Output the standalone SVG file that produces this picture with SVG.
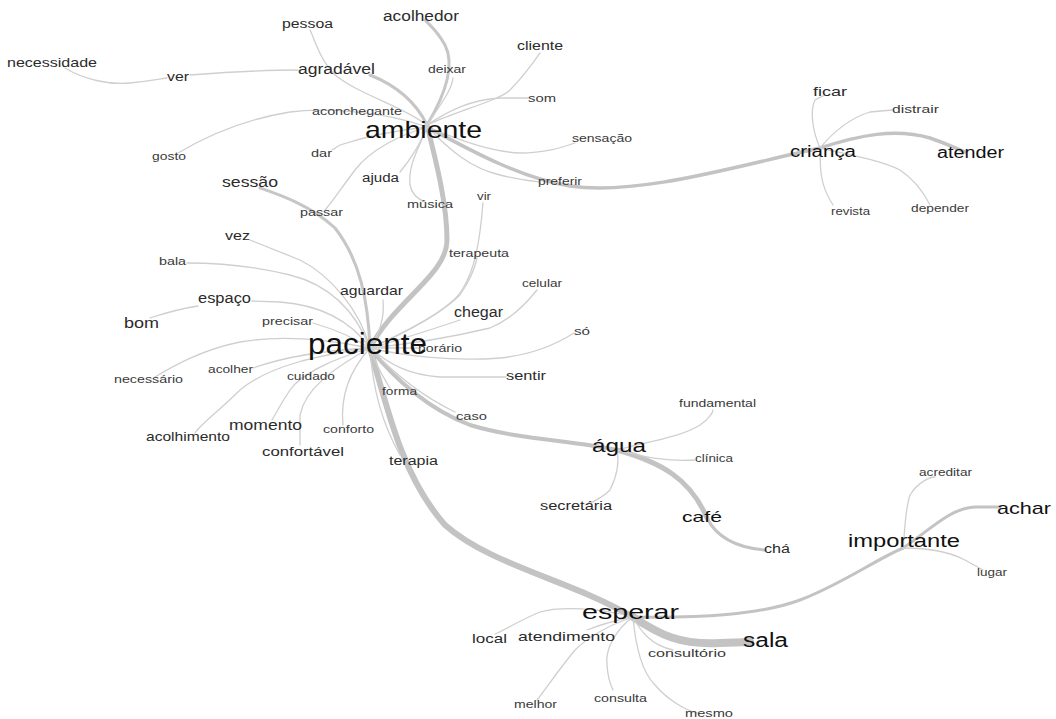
<svg xmlns="http://www.w3.org/2000/svg" width="1056" height="719" viewBox="0 0 1056 719">
<style>
.e{fill:none;stroke:#cfcfcf;stroke-width:1.3;stroke-linecap:round}
.m{fill:none;stroke:#c6c6c6;stroke-width:3;stroke-linecap:round}
.t{fill:none;stroke:#c3c3c3;stroke-linecap:round}
text{font-family:"Liberation Sans",Arial,sans-serif;fill:#2b2b2b}
.s{font-size:11px;fill:#3a3a3a}
.b{fill:#111}
</style>
<rect width="1056" height="719" fill="#ffffff"/>
<g id="connectors">
<path class="t" stroke-width="5" d="M427,125 C437,165 447,205 447,240 C447,275 395,300 370,348"/>
<path class="t" stroke-width="3.5" d="M427,127 C470,150 520,178 570,186 C640,196 740,165 820,148"/>
<path class="t" stroke-width="3.5" d="M820,148 C860,135 895,128 930,138 C945,143 955,148 965,152"/>
<path class="t" stroke-width="6" d="M370,348 C390,420 405,480 445,525 C490,565 570,580 633,617"/>
<path class="t" stroke-width="4" d="M370,348 C395,380 430,410 470,425 C520,440 570,440 617,450"/>
<path class="t" stroke-width="5" d="M617,450 C660,462 690,478 707,518"/>
<path class="t" stroke-width="3" d="M707,518 C718,540 740,548 765,550"/>
<path class="t" stroke-width="8" d="M633,617 C660,635 680,645 720,643 L750,642"/>
<path class="t" stroke-width="3" d="M633,617 C700,618 760,615 800,600 C840,585 875,560 903,548"/>
<path class="t" stroke-width="3" d="M903,548 C930,530 950,508 975,507 L1000,507"/>
<path class="m" d="M427,125 C445,95 455,65 445,45 C438,32 430,25 425,20"/>
<path class="m" d="M427,125 C415,100 395,85 370,75"/>
<path class="m" d="M370,348 C368,300 360,260 335,228 C310,205 280,195 260,188"/>
<path class="e" d="M427,125 C440,105 452,90 453,78"/>
<path class="e" d="M427,125 C460,110 500,100 510,90 C525,75 535,60 540,53"/>
<path class="e" d="M427,125 C450,110 470,100 500,98 L528,98"/>
<path class="e" d="M427,125 C400,105 360,95 335,75 C320,60 315,40 310,30"/>
<path class="e" d="M190,75 C230,72 260,70 298,70"/>
<path class="e" d="M65,68 C85,80 110,85 130,83 C150,81 160,79 167,78"/>
<path class="e" d="M427,127 C380,110 320,108 290,112 C240,120 200,140 178,153"/>
<path class="e" d="M427,127 C400,130 370,135 340,145 L332,150"/>
<path class="e" d="M427,127 C400,135 370,150 355,170 C340,190 330,205 325,210"/>
<path class="e" d="M427,127 C420,145 410,160 400,172"/>
<path class="e" d="M427,127 C418,150 408,165 410,185 C412,195 420,200 425,202"/>
<path class="e" d="M427,127 C460,140 490,152 520,153 C545,153 560,148 575,143"/>
<path class="e" d="M427,127 C450,150 470,168 500,175 C520,180 530,181 540,182"/>
<path class="e" d="M820,148 C812,130 810,110 815,100 L825,95"/>
<path class="e" d="M820,148 C835,130 850,118 870,112 L892,110"/>
<path class="e" d="M820,148 C820,170 820,185 833,205"/>
<path class="e" d="M820,148 C850,155 880,160 900,170 C915,180 925,195 930,205"/>
<path class="e" d="M370,348 C360,310 330,275 300,260 C275,250 255,242 250,240"/>
<path class="e" d="M370,348 C355,310 330,285 290,275 C250,265 210,263 187,263"/>
<path class="e" d="M370,348 C350,320 320,305 280,302 L252,301"/>
<path class="e" d="M150,318 C165,313 185,308 198,306"/>
<path class="e" d="M370,348 C350,335 330,328 313,323"/>
<path class="e" d="M370,348 C378,335 385,320 383,300"/>
<path class="e" d="M370,348 C330,340 280,335 240,342 C200,350 170,368 155,377"/>
<path class="e" d="M370,348 C330,350 290,355 253,368"/>
<path class="e" d="M370,348 C320,355 270,365 240,390 C220,410 200,425 195,433"/>
<path class="e" d="M370,348 C330,360 300,375 290,390 C280,405 275,415 272,420"/>
<path class="e" d="M370,348 C330,370 305,390 300,415 L300,445"/>
<path class="e" d="M370,348 C350,370 340,395 343,425"/>
<path class="e" d="M370,348 C372,380 380,420 400,455"/>
<path class="e" d="M370,348 C378,370 385,380 390,388"/>
<path class="e" d="M370,348 C400,380 430,400 455,412"/>
<path class="e" d="M370,348 C390,365 410,375 440,377 L506,377"/>
<path class="e" d="M370,348 C400,355 450,362 500,358 C530,355 555,345 574,333"/>
<path class="e" d="M370,348 L418,348"/>
<path class="e" d="M370,348 C400,345 440,340 490,328 C510,320 525,305 537,290"/>
<path class="e" d="M370,348 C400,340 430,330 460,320"/>
<path class="e" d="M370,348 C400,335 440,315 460,295 C470,280 475,268 477,258"/>
<path class="e" d="M370,348 C400,335 450,310 462,290 C475,270 480,240 483,203"/>
<path class="e" d="M617,450 C640,443 680,438 700,425 C710,418 713,412 713,410"/>
<path class="e" d="M617,450 C640,455 660,462 695,460"/>
<path class="e" d="M617,450 C620,465 615,480 610,490 C600,500 590,503 585,505"/>
<path class="e" d="M903,548 C905,530 905,510 910,495 C918,482 930,477 935,477"/>
<path class="e" d="M903,548 C930,548 950,552 965,560 L983,570"/>
<path class="e" d="M633,617 C600,608 560,606 540,612 C520,620 505,630 495,634"/>
<path class="e" d="M633,617 C615,620 600,625 587,630"/>
<path class="e" d="M633,617 C610,625 590,635 575,650 C560,668 545,690 537,700"/>
<path class="e" d="M633,617 C615,630 605,650 607,665 C608,680 612,688 613,690"/>
<path class="e" d="M633,617 C635,640 640,670 655,685 C668,700 685,710 697,713"/>
<path class="e" d="M633,617 C640,630 650,645 673,650"/>
</g>
<g id="n-necessidade"><text x="7" y="67" font-size="13" textLength="90" lengthAdjust="spacingAndGlyphs">necessidade</text></g>
<g id="n-ver"><text x="167" y="81" font-size="13" textLength="22" lengthAdjust="spacingAndGlyphs">ver</text></g>
<g id="n-pessoa"><text x="282" y="28" font-size="12" textLength="51" lengthAdjust="spacingAndGlyphs">pessoa</text></g>
<g id="n-acolhedor"><text x="383" y="21" font-size="14" textLength="76" lengthAdjust="spacingAndGlyphs">acolhedor</text></g>
<g id="n-cliente"><text x="517" y="50" font-size="13" textLength="46" lengthAdjust="spacingAndGlyphs">cliente</text></g>
<g id="n-agradavel"><text x="298" y="74" font-size="14" textLength="77" lengthAdjust="spacingAndGlyphs">agradável</text></g>
<g id="n-deixar"><text class="s" x="428" y="73" textLength="38" lengthAdjust="spacingAndGlyphs">deixar</text></g>
<g id="n-som"><text class="s" x="528" y="102" textLength="28" lengthAdjust="spacingAndGlyphs">som</text></g>
<g id="n-aconchegante"><text class="s" x="312" y="115" textLength="90" lengthAdjust="spacingAndGlyphs">aconchegante</text></g>
<g id="n-ambiente"><text class="b" x="365" y="138" font-size="24" textLength="117" lengthAdjust="spacingAndGlyphs">ambiente</text></g>
<g id="n-sensacao"><text class="s" x="572" y="142" textLength="60" lengthAdjust="spacingAndGlyphs">sensação</text></g>
<g id="n-dar"><text class="s" x="311" y="157" textLength="21" lengthAdjust="spacingAndGlyphs">dar</text></g>
<g id="n-gosto"><text class="s" x="152" y="160" textLength="34" lengthAdjust="spacingAndGlyphs">gosto</text></g>
<g id="n-sessao"><text x="222" y="187" font-size="14" textLength="56" lengthAdjust="spacingAndGlyphs">sessão</text></g>
<g id="n-ajuda"><text x="362" y="182" font-size="12" textLength="37" lengthAdjust="spacingAndGlyphs">ajuda</text></g>
<g id="n-preferir"><text class="s" x="538" y="185" textLength="44" lengthAdjust="spacingAndGlyphs">preferir</text></g>
<g id="n-musica"><text class="s" x="407" y="208" textLength="46" lengthAdjust="spacingAndGlyphs">música</text></g>
<g id="n-vir"><text class="s" x="477" y="200" textLength="14" lengthAdjust="spacingAndGlyphs">vir</text></g>
<g id="n-passar"><text class="s" x="300" y="216" textLength="43" lengthAdjust="spacingAndGlyphs">passar</text></g>
<g id="n-ficar"><text x="813" y="96" font-size="13" textLength="34" lengthAdjust="spacingAndGlyphs">ficar</text></g>
<g id="n-distrair"><text class="s" x="892" y="113" textLength="47" lengthAdjust="spacingAndGlyphs">distrair</text></g>
<g id="n-crianca"><text class="b" x="790" y="157" font-size="16" textLength="66" lengthAdjust="spacingAndGlyphs">criança</text></g>
<g id="n-atender"><text class="b" x="937" y="158" font-size="16" textLength="67" lengthAdjust="spacingAndGlyphs">atender</text></g>
<g id="n-revista"><text class="s" x="831" y="215" textLength="39" lengthAdjust="spacingAndGlyphs">revista</text></g>
<g id="n-depender"><text class="s" x="911" y="212" textLength="58" lengthAdjust="spacingAndGlyphs">depender</text></g>
<g id="n-vez"><text x="225" y="240" font-size="13" textLength="25" lengthAdjust="spacingAndGlyphs">vez</text></g>
<g id="n-bala"><text class="s" x="159" y="265" textLength="27" lengthAdjust="spacingAndGlyphs">bala</text></g>
<g id="n-terapeuta"><text class="s" x="449" y="257" textLength="60" lengthAdjust="spacingAndGlyphs">terapeuta</text></g>
<g id="n-aguardar"><text x="340" y="295" font-size="13" textLength="63" lengthAdjust="spacingAndGlyphs">aguardar</text></g>
<g id="n-celular"><text class="s" x="522" y="287" textLength="40" lengthAdjust="spacingAndGlyphs">celular</text></g>
<g id="n-espaco"><text x="198" y="303" font-size="14" textLength="53" lengthAdjust="spacingAndGlyphs">espaço</text></g>
<g id="n-bom"><text x="124" y="328" font-size="15" textLength="35" lengthAdjust="spacingAndGlyphs">bom</text></g>
<g id="n-precisar"><text class="s" x="262" y="325" textLength="51" lengthAdjust="spacingAndGlyphs">precisar</text></g>
<g id="n-chegar"><text x="454" y="317" font-size="14" textLength="49" lengthAdjust="spacingAndGlyphs">chegar</text></g>
<g id="n-so"><text class="s" x="574" y="335" textLength="16" lengthAdjust="spacingAndGlyphs">só</text></g>
<g id="n-horario"><text class="s" x="418" y="352" textLength="44" lengthAdjust="spacingAndGlyphs">horário</text></g>
<g id="n-paciente"><text class="b" x="308" y="354" font-size="29" textLength="119" lengthAdjust="spacingAndGlyphs">paciente</text></g>
<g id="n-sentir"><text x="506" y="380" font-size="13" textLength="40" lengthAdjust="spacingAndGlyphs">sentir</text></g>
<g id="n-necessario"><text class="s" x="114" y="383" textLength="69" lengthAdjust="spacingAndGlyphs">necessário</text></g>
<g id="n-acolher"><text class="s" x="208" y="373" textLength="45" lengthAdjust="spacingAndGlyphs">acolher</text></g>
<g id="n-cuidado"><text class="s" x="287" y="380" textLength="48" lengthAdjust="spacingAndGlyphs">cuidado</text></g>
<g id="n-forma"><text class="s" x="382" y="395" textLength="35" lengthAdjust="spacingAndGlyphs">forma</text></g>
<g id="n-caso"><text class="s" x="456" y="420" textLength="31" lengthAdjust="spacingAndGlyphs">caso</text></g>
<g id="n-momento"><text x="229" y="430" font-size="15" textLength="73" lengthAdjust="spacingAndGlyphs">momento</text></g>
<g id="n-conforto"><text class="s" x="323" y="433" textLength="51" lengthAdjust="spacingAndGlyphs">conforto</text></g>
<g id="n-acolhimento"><text x="146" y="441" font-size="13" textLength="84" lengthAdjust="spacingAndGlyphs">acolhimento</text></g>
<g id="n-terapia"><text x="389" y="465" font-size="12" textLength="49" lengthAdjust="spacingAndGlyphs">terapia</text></g>
<g id="n-confortavel"><text x="262" y="456" font-size="12" textLength="82" lengthAdjust="spacingAndGlyphs">confortável</text></g>
<g id="n-fundamental"><text class="s" x="679" y="407" textLength="77" lengthAdjust="spacingAndGlyphs">fundamental</text></g>
<g id="n-agua"><text class="b" x="592" y="452" font-size="19" textLength="54" lengthAdjust="spacingAndGlyphs">água</text></g>
<g id="n-clinica"><text class="s" x="695" y="462" textLength="38" lengthAdjust="spacingAndGlyphs">clínica</text></g>
<g id="n-secretaria"><text x="540" y="510" font-size="12" textLength="72" lengthAdjust="spacingAndGlyphs">secretária</text></g>
<g id="n-cafe"><text class="b" x="682" y="522" font-size="15" textLength="40" lengthAdjust="spacingAndGlyphs">café</text></g>
<g id="n-cha"><text x="764" y="553" font-size="12" textLength="26" lengthAdjust="spacingAndGlyphs">chá</text></g>
<g id="n-acreditar"><text class="s" x="919" y="476" font-size="10" textLength="53" lengthAdjust="spacingAndGlyphs">acreditar</text></g>
<g id="n-achar"><text class="b" x="997" y="514" font-size="17" textLength="54" lengthAdjust="spacingAndGlyphs">achar</text></g>
<g id="n-importante"><text class="b" x="848" y="547" font-size="18" textLength="112" lengthAdjust="spacingAndGlyphs">importante</text></g>
<g id="n-lugar"><text class="s" x="977" y="576" textLength="30" lengthAdjust="spacingAndGlyphs">lugar</text></g>
<g id="n-esperar"><text class="b" x="582" y="619" font-size="21" textLength="97" lengthAdjust="spacingAndGlyphs">esperar</text></g>
<g id="n-local"><text x="472" y="643" font-size="13" textLength="35" lengthAdjust="spacingAndGlyphs">local</text></g>
<g id="n-atendimento"><text x="518" y="641" font-size="13" textLength="97" lengthAdjust="spacingAndGlyphs">atendimento</text></g>
<g id="n-sala"><text class="b" x="743" y="647" font-size="20" textLength="45" lengthAdjust="spacingAndGlyphs">sala</text></g>
<g id="n-consultorio"><text class="s" x="648" y="657" textLength="78" lengthAdjust="spacingAndGlyphs">consultório</text></g>
<g id="n-consulta"><text class="s" x="594" y="702" textLength="53" lengthAdjust="spacingAndGlyphs">consulta</text></g>
<g id="n-melhor"><text class="s" x="514" y="708" textLength="43" lengthAdjust="spacingAndGlyphs">melhor</text></g>
<g id="n-mesmo"><text class="s" x="685" y="717" textLength="48" lengthAdjust="spacingAndGlyphs">mesmo</text></g>
</svg>
